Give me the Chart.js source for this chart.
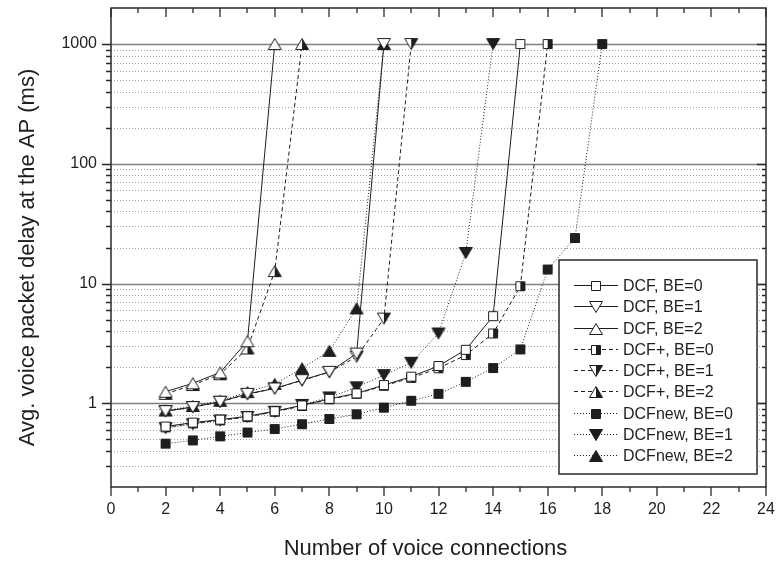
<!DOCTYPE html>
<html>
<head>
<meta charset="utf-8">
<script src="https://cdn.jsdelivr.net/npm/chart.js@4/dist/chart.umd.min.js"></script>
<style>
  html, body { margin: 0; padding: 0; background: #fff; }
  canvas { display: block; }
</style>
</head>
<body>
<canvas id="delayChart" width="778" height="566"></canvas>
<script>
// Number of voice connections (every series starts at 2)
const nConnections = [2, 3, 4, 5, 6, 7, 8, 9, 10, 11, 12, 13, 14, 15, 16, 17, 18];

// Average voice packet delay at the AP (ms)
const dcfBE0    = [0.64, 0.69, 0.73, 0.78, 0.86, 0.96, 1.09, 1.21, 1.42, 1.67, 2.05, 2.8, 5.34, 1000];
const dcfBE1    = [0.86, 0.93, 1.03, 1.2, 1.33, 1.56, 1.83, 2.6, 1000];
const dcfBE2    = [1.25, 1.47, 1.81, 3.3, 1000];
const dcfPlusBE0 = [0.63, 0.68, 0.72, 0.77, 0.85, 0.95, 1.08, 1.2, 1.4, 1.63, 1.96, 2.53, 3.83, 9.5, 1000];
const dcfPlusBE1 = [0.86, 0.93, 1.03, 1.19, 1.33, 1.55, 1.82, 2.45, 5.1, 1000];
const dcfPlusBE2 = [1.2, 1.42, 1.75, 2.87, 12.7, 1000];
const dcfNewBE0 = [0.46, 0.49, 0.53, 0.57, 0.61, 0.67, 0.74, 0.81, 0.92, 1.05, 1.2, 1.51, 1.97, 2.82, 13.1, 24, 1000];
const dcfNewBE1 = [0.62, 0.67, 0.72, 0.77, 0.85, 0.97, 1.12, 1.36, 1.72, 2.18, 3.83, 18, 1000];
const dcfNewBE2 = [0.87, 0.95, 1.05, 1.24, 1.45, 1.96, 2.74, 6.2, 1000];

const seriesLabels = [
  'DCF, BE=0', 'DCF, BE=1', 'DCF, BE=2',
  'DCF+, BE=0', 'DCF+, BE=1', 'DCF+, BE=2',
  'DCFnew, BE=0', 'DCFnew, BE=1', 'DCFnew, BE=2'
];

// Axis ticks and titles
const xTickLabels = [0, 2, 4, 6, 8, 10, 12, 14, 16, 18, 20, 22, 24];
const xMinorTicks = [1, 3, 5, 7, 9, 11, 13, 15, 17, 19, 21, 23];
const yMajorTicks = [1, 10, 100, 1000];
const yMinorTicks = [0.3, 0.4, 0.5, 0.6, 0.7, 0.8, 0.9,
                     2, 3, 4, 5, 6, 7, 8, 9,
                     20, 30, 40, 50, 60, 70, 80, 90,
                     200, 300, 400, 500, 600, 700, 800, 900];
const xTitle = 'Number of voice connections';
const yTitle = 'Avg. voice packet delay at the AP (ms)';

const INK = '#1e1e1e';
const FONT = '"Liberation Sans", Arial, Helvetica, sans-serif';

// Marker bitmaps: open, half-filled and filled squares / triangles
function marker(shape, fill) {
  const c = document.createElement('canvas');
  c.width = 16; c.height = 16;
  const g = c.getContext('2d');
  const cx = 8, cy = 8;
  const p = new Path2D();
  if (shape === 'square') {
    p.rect(cx - 4.5, cy - 4.5, 9, 9);
  } else if (shape === 'up') {
    p.moveTo(cx, cy - 5.5); p.lineTo(cx + 6.5, cy + 5.5); p.lineTo(cx - 6.5, cy + 5.5); p.closePath();
  } else {
    p.moveTo(cx - 6.5, cy - 5.5); p.lineTo(cx + 6.5, cy - 5.5); p.lineTo(cx, cy + 5.5); p.closePath();
  }
  g.fillStyle = '#fff';
  g.fill(p);
  if (fill === 'full') {
    g.fillStyle = INK; g.fill(p);
  } else if (fill === 'half') {
    g.save(); g.clip(p); g.fillStyle = INK; g.fillRect(cx, 0, 8, 16); g.restore();
  }
  g.lineWidth = 1; g.strokeStyle = INK;
  g.stroke(p);
  return c;
}

const solid = [], dashed = [4, 3], dotted = [1, 2];
const seriesValues = [dcfBE0, dcfBE1, dcfBE2, dcfPlusBE0, dcfPlusBE1, dcfPlusBE2, dcfNewBE0, dcfNewBE1, dcfNewBE2];
const seriesDash = [solid, solid, solid, dashed, dashed, dashed, dotted, dotted, dotted];
const seriesMarker = [
  marker('square', 'open'), marker('down', 'open'), marker('up', 'open'),
  marker('square', 'half'), marker('down', 'half'), marker('up', 'half'),
  marker('square', 'full'), marker('down', 'full'), marker('up', 'full')
];

const datasets = seriesValues.map((vals, i) => ({
  label: seriesLabels[i],
  data: vals.map((v, k) => ({ x: nConnections[k], y: v })),
  borderColor: INK,
  backgroundColor: INK,
  borderWidth: 1,
  borderDash: seriesDash[i],
  pointStyle: seriesMarker[i],
  pointRadius: 7,
  pointHoverRadius: 7,
  tension: 0,
  fill: false
}));

// Grid lines, frame with mirrored ticks, axis titles and the boxed legend
const framePlugin = {
  id: 'frame',
  beforeDatasetsDraw(chart) {
    const { ctx, chartArea: a, scales: { y } } = chart;
    ctx.save();
    ctx.lineWidth = 1;
    ctx.strokeStyle = '#a0a0a0';
    ctx.setLineDash([1, 2]);
    yMinorTicks.forEach(v => {
      const py = Math.round(y.getPixelForValue(v)) + 0.5;
      ctx.beginPath(); ctx.moveTo(a.left, py); ctx.lineTo(a.right, py); ctx.stroke();
    });
    ctx.setLineDash([]);
    ctx.strokeStyle = '#808080';
    ctx.lineWidth = 1.3;
    yMajorTicks.forEach(v => {
      const py = Math.round(y.getPixelForValue(v)) + 0.5;
      ctx.beginPath(); ctx.moveTo(a.left, py); ctx.lineTo(a.right, py); ctx.stroke();
    });
    ctx.restore();
  },
  afterDatasetsDraw(chart) {
    const { ctx, chartArea: a, scales: { x, y } } = chart;
    ctx.save();

    // legend
    const lw = 198, lh = 214;
    const lx = a.right - 9 - lw, ly = a.bottom - 13 - lh;
    ctx.fillStyle = '#fff';
    ctx.fillRect(lx, ly, lw, lh);
    ctx.strokeStyle = '#2a2a2a';
    ctx.lineWidth = 1.5;
    ctx.strokeRect(lx, ly, lw, lh);
    ctx.font = '16px ' + FONT;
    ctx.textBaseline = 'middle';
    ctx.textAlign = 'left';
    chart.data.datasets.forEach((ds, i) => {
      const ry = Math.round(ly + 25 + i * 21.25) + 0.5;
      ctx.strokeStyle = INK;
      ctx.lineWidth = 1;
      ctx.setLineDash(ds.borderDash);
      ctx.beginPath(); ctx.moveTo(lx + 15, ry); ctx.lineTo(lx + 59, ry); ctx.stroke();
      ctx.setLineDash([]);
      const m = ds.pointStyle;
      ctx.drawImage(m, Math.round(lx + 37 - m.width / 2), Math.round(ry - m.height / 2));
      ctx.fillStyle = INK;
      ctx.fillText(ds.label, lx + 64, ry + 1);
    });

    // frame
    ctx.strokeStyle = '#2a2a2a';
    ctx.lineWidth = 1.5;
    ctx.strokeRect(a.left, a.top, a.right - a.left, a.bottom - a.top);

    // x ticks: outward at the bottom, inward at the top
    ctx.lineWidth = 1.3;
    const xt = (v, len) => {
      const px = Math.round(x.getPixelForValue(v));
      ctx.beginPath();
      ctx.moveTo(px, a.bottom); ctx.lineTo(px, a.bottom + len);
      ctx.moveTo(px, a.top); ctx.lineTo(px, a.top + len);
      ctx.stroke();
    };
    xTickLabels.forEach(v => xt(v, 9));
    xMinorTicks.forEach(v => xt(v, 5));

    // y ticks: outward on the left, inward on the right
    const yt = (v, lenL, lenR) => {
      const py = Math.round(y.getPixelForValue(v)) + 0.5;
      ctx.beginPath();
      ctx.moveTo(a.left, py); ctx.lineTo(a.left - lenL, py);
      ctx.moveTo(a.right, py); ctx.lineTo(a.right - lenR, py);
      ctx.stroke();
    };
    yMajorTicks.forEach(v => yt(v, 9, 9));
    yMinorTicks.forEach(v => yt(v, 5, 4));

    // axis titles
    ctx.fillStyle = INK;
    ctx.font = '22px ' + FONT;
    ctx.textAlign = 'center';
    ctx.textBaseline = 'middle';
    ctx.fillText(xTitle, (a.left + a.right) / 2 - 13, a.bottom + 62);
    ctx.translate(28, (a.top + a.bottom) / 2 + 10);
    ctx.rotate(-Math.PI / 2);
    ctx.fillText(yTitle, 0, 0);

    ctx.restore();
  }
};

new Chart(document.getElementById('delayChart'), {
  type: 'line',
  data: { datasets },
  plugins: [framePlugin],
  options: {
    responsive: false,
    animation: false,
    layout: { padding: { left: 0, top: 7, right: 12, bottom: 0 } },
    plugins: { legend: { display: false }, tooltip: { enabled: false } },
    scales: {
      x: {
        type: 'linear',
        min: 0, max: 24,
        afterBuildTicks: s => { s.ticks = xTickLabels.map(v => ({ value: v })); },
        afterFit: s => { s.height = 79; s.paddingLeft = 0; s.paddingRight = 0; },
        grid: { display: false, drawTicks: false },
        border: { display: false },
        ticks: {
          padding: 13, color: INK, autoSkip: false, maxRotation: 0,
          font: { family: FONT, size: 16 },
          callback: v => String(v)
        }
      },
      y: {
        type: 'logarithmic',
        min: 0.2, max: 2000,
        afterBuildTicks: s => { s.ticks = yMajorTicks.map(v => ({ value: v })); },
        afterFit: s => { s.width = 111; s.paddingTop = 0; s.paddingBottom = 0; },
        grid: { display: false, drawTicks: false },
        border: { display: false },
        ticks: {
          padding: 14, color: INK,
          font: { family: FONT, size: 16 },
          callback: v => String(v)
        }
      }
    }
  }
});
</script>
</body>
</html>
